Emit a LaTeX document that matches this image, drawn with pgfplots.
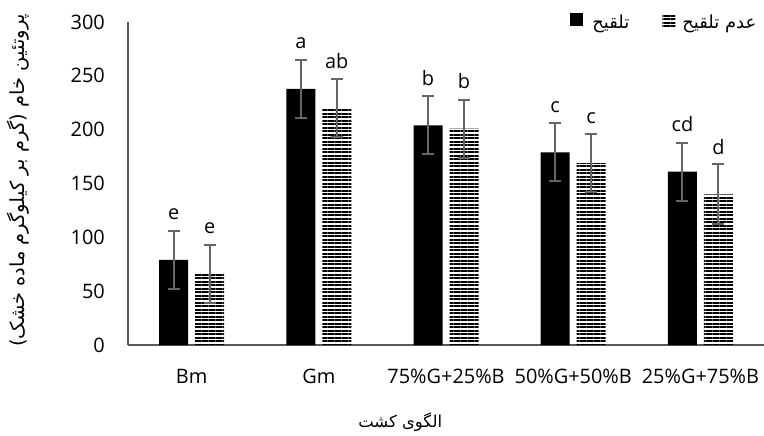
\documentclass[border=0pt]{standalone}
\usepackage{pgfplots}
\pgfplotsset{compat=1.18}
\usepackage{pgfplotstable}
\usepackage{fontspec}
\setmainfont{Open Sans}
\newfontfamily\arabicfont[Script=Arabic]{DejaVu Sans}
\TeXXeTstate=1
\usetikzlibrary{patterns.meta}

\pgfplotstableread{
x y e lab
0 79 27 e
1 238 27 a
2 204 27 b
3 179 27 c
4 161 27 cd
}\inoc
\pgfplotstableread{
x y e lab
0 66 27 e
1 220 27 ab
2 201 27 b
3 169 27 c
4 140 28 d
}\noinoc

\begin{document}
\begin{tikzpicture}
\begin{axis}[
  name=ax,
  scale only axis,
  width=636bp, height=323bp,
  xmin=-0.5, xmax=4.5,
  ymin=0, ymax=300,
  ybar=7bp, bar width=29bp,
  axis x line=bottom, axis y line=left,
  axis line style={-, black!65, line width=1.1bp},
  xtick={0,...,4},
  xticklabels={Bm,Gm,75\%G+25\%B,50\%G+50\%B,25\%G+75\%B},
  ytick={0,50,...,300},
  major tick length=0pt,
  tick label style={font=\fontsize{20}{24}\selectfont},
  /pgf/number format/assume math mode=true,
  xticklabel style={anchor=base, yshift=-38bp, inner sep=0pt},
  yticklabel style={anchor=east, xshift=-23bp, inner sep=0pt},
  clip=false,
  every axis y label/.style={at={(axis description cs:-0.173,0.51)}, anchor=center, rotate=90},
  every axis x label/.style={at={(axis description cs:0.428,-0.238)}, anchor=center},
  ylabel={\arabicfont\fontsize{19.5}{22}\selectfont\beginR پروتئین خام (گرم بر کیلوگرم ماده خشک)\endR},
  xlabel={\arabicfont\fontsize{16.5}{20}\selectfont\beginR الگوی کشت\endR},
  legend style={draw=none, fill=none, at={(axis description cs:0.996,1.035)}, anchor=north east,
    font=\arabicfont\fontsize{18}{21}\selectfont,
    /tikz/every even column/.append style={column sep=31bp}},
  legend columns=2,
  legend image code/.code={\fill[#1] (0bp,-4bp) rectangle (13bp,9bp);},
  nodes near coords, point meta=explicit symbolic,
  nodes near coords style={anchor=base, yshift=40bp, inner sep=0pt, font=\fontsize{20}{24}\selectfont, black},
]
\addplot[fill=black, draw=none,
  error bars/.cd, y dir=both, y explicit,
  error bar style={black!60, line width=2bp},
  error mark options={rotate=90, mark size=6bp, line width=2bp, black!60}]
  table[x=x, y=y, y error=e, meta=lab] {\inoc};
\addlegendentry{\hspace{7bp}\beginR تلقیح\endR}
\addplot[draw=none,
  pattern={Lines[angle=0, distance=3.5bp, line width=2bp]}, pattern color=black,
  error bars/.cd, y dir=both, y explicit,
  error bar style={black!60, line width=2bp},
  error mark options={rotate=90, mark size=6bp, line width=2bp, black!60}]
  table[x=x, y=y, y error=e, meta=lab] {\noinoc};
\addlegendentry{\hspace{5bp}\beginR عدم تلقیح\endR}
\end{axis}
\pgfresetboundingbox
\path ([xshift=-128bp,yshift=-91bp]ax.south west) rectangle ([yshift=22bp]ax.north east);
\end{tikzpicture}
\end{document}
